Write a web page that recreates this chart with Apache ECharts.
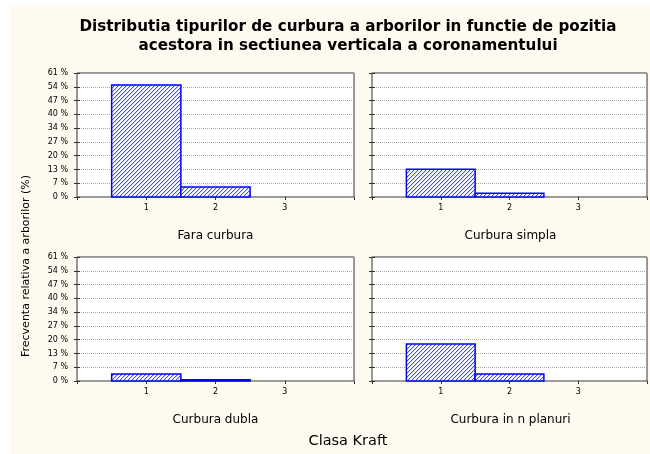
<!DOCTYPE html>
<html>
<head>
<meta charset="utf-8">
<script src="https://cdn.jsdelivr.net/npm/echarts@6/dist/echarts.min.js"></script>
<style>
  body { margin: 0; background: #ffffff; }
  #paper { position: absolute; left: 10px; top: 5px; width: 640px; height: 449px; background: #fffaf0; }
  #chart { position: absolute; left: 0; top: 0; width: 650px; height: 454px; }
</style>
</head>
<body>
<div id="paper"></div>
<div id="chart"></div>
<script>
// Kraft classes on the x axis, and their tick labels (0 and 4 are the frame edges)
const classes = [1, 2, 3];
const xTickLabels = ['', '1', '2', '3', ''];

// Y axis: 0 .. 60.5 % split in 9 equal steps
const yMax = 60.5;
const yTickLabels = ['0 %', '7 %', '13 %', '20 %', '27 %', '34 %', '40 %', '47 %', '54 %', '61 %'];

// Relative frequency (%) per curvature type
const panelNames = ['Fara curbura', 'Curbura simpla', 'Curbura dubla', 'Curbura in n planuri'];
const faraCurbura = [54.6, 4.9, 0];
const curburaSimpla = [13.5, 1.8, 0];
const curburaDubla = [3.4, 0.6, 0];
const curburaPlanuri = [18.0, 3.4, 0];
const panelValues = [faraCurbura, curburaSimpla, curburaDubla, curburaPlanuri];

// Panel boxes (left, top, width, height)
const panels = [
    [77, 73, 277, 124],
    [372, 73, 279, 124],
    [77, 257, 277, 124],
    [372, 257, 279, 124]
];

const font = '"DejaVu Sans", sans-serif';
const yStep = yMax / 9;

// Diagonal hatch used to fill the bars
const hatch = document.createElement('canvas');
hatch.width = hatch.height = 4;
const hctx = hatch.getContext('2d');
hctx.fillStyle = '#ffffff';
hctx.fillRect(0, 0, 4, 4);
for (let i = 0; i < 4; i++) {
    hctx.fillStyle = '#4848ff';
    hctx.fillRect(i, 3 - i, 1, 1);
    hctx.fillStyle = '#d0d0ff';
    hctx.fillRect(i, (4 - i) % 4, 1, 1);
}

function renderBar(params, api) {
    const x = api.value(0);
    const y = api.value(1);
    if (!y) return;
    const p0 = api.coord([x - 0.5, y]);
    const p1 = api.coord([x + 0.5, 0]);
    return {
        type: 'rect',
        shape: { x: p0[0], y: p0[1], width: p1[0] - p0[0], height: p1[1] - p0[1] },
        style: { fill: { image: hatch, repeat: 'repeat' }, stroke: '#0000ff', lineWidth: 1.5 }
    };
}

const grid = [], xAxis = [], yAxis = [], series = [], graphic = [];

panels.forEach((p, k) => {
    grid.push({
        left: p[0], top: p[1], width: p[2], height: p[3],
        show: true, backgroundColor: '#ffffff', borderColor: '#333333', borderWidth: 1
    });

    // bottom axis with labels, top axis only for the inside ticks
    ['bottom', 'top'].forEach(pos => {
        xAxis.push({
            type: 'value', gridIndex: k, position: pos, min: 0, max: 4, interval: 1,
            axisLine: { show: false },
            axisTick: { show: pos === 'top', inside: true, length: 3, lineStyle: { color: '#333' } },
            axisLabel: {
                show: pos === 'bottom', margin: 7, color: '#000', fontFamily: font, fontSize: 8,
                formatter: v => xTickLabels[v]
            },
            splitLine: { show: false }
        });
    });

    ['left', 'right'].forEach(pos => {
        yAxis.push({
            type: 'value', gridIndex: k, position: pos, min: 0, max: yMax, interval: yStep,
            axisLine: { show: false },
            axisTick: { show: true, inside: true, length: 3, lineStyle: { color: '#333' } },
            axisLabel: {
                show: pos === 'left' && k % 2 === 0, margin: 9, color: '#000', fontFamily: font, fontSize: 8,
                formatter: v => yTickLabels[Math.round(v / yStep)]
            },
            splitLine: {
                show: pos === 'left',
                lineStyle: { color: '#a8a8a8', type: [1, 1], width: 1 }
            }
        });
    });

    series.push({
        type: 'custom',
        xAxisIndex: k * 2,
        yAxisIndex: k * 2,
        renderItem: renderBar,
        data: classes.map((c, i) => [c, panelValues[k][i]]),
        z: 3
    });

    graphic.push({
        type: 'text',
        x: p[0] + p[2] / 2 - (k % 2 ? 1 : 0),
        y: k < 2 ? 236 : 420,
        style: {
            text: panelNames[k], font: '12px ' + font, fill: '#000',
            textAlign: 'center', textVerticalAlign: 'middle'
        }
    });
});

graphic.push(
    {
        type: 'text', x: 348, y: 27,
        style: {
            text: 'Distributia tipurilor de curbura a arborilor in functie de pozitia',
            font: 'bold 15.2px ' + font, fill: '#000', textAlign: 'center', textVerticalAlign: 'middle'
        }
    },
    {
        type: 'text', x: 348, y: 46,
        style: {
            text: 'acestora in sectiunea verticala a coronamentului',
            font: 'bold 15.2px ' + font, fill: '#000', textAlign: 'center', textVerticalAlign: 'middle'
        }
    },
    {
        type: 'text', x: 348, y: 441,
        style: {
            text: 'Clasa Kraft', font: '14.5px ' + font, fill: '#000',
            textAlign: 'center', textVerticalAlign: 'middle'
        }
    },
    {
        type: 'text', x: 26, y: 266, rotation: Math.PI / 2,
        style: {
            text: 'Frecventa relativa a arborilor (%)', font: '11px ' + font, fill: '#000',
            textAlign: 'center', textVerticalAlign: 'middle'
        }
    }
);

const chart = echarts.init(document.getElementById('chart'));
chart.setOption({
    backgroundColor: 'transparent',
    animation: false,
    grid: grid,
    xAxis: xAxis,
    yAxis: yAxis,
    series: series,
    graphic: graphic
});
</script>
</body>
</html>
